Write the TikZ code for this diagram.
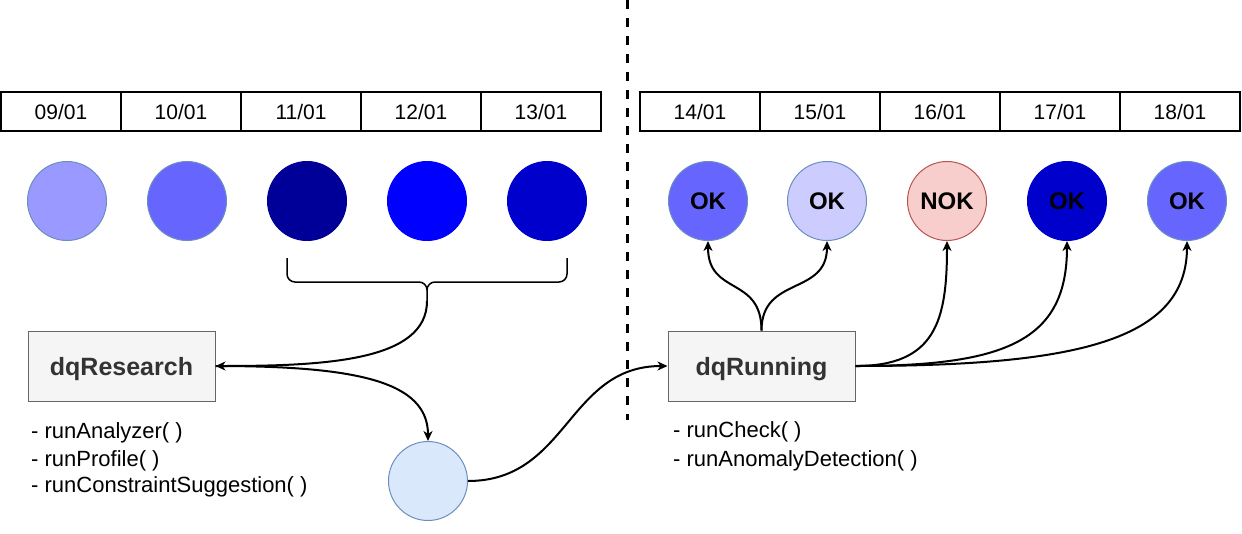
\documentclass[tikz,border=0pt]{standalone}
\usepackage{fontspec}
\setmainfont{Liberation Sans}
\usepackage{tikz}
\usetikzlibrary{arrows.meta}
\definecolor{lilac}{HTML}{9999FF}
\definecolor{mblue}{HTML}{6666FF}
\definecolor{navy}{HTML}{000099}
\definecolor{pblue}{HTML}{0000FF}
\definecolor{dblue}{HTML}{0000CC}
\definecolor{pale}{HTML}{CCCCFF}
\definecolor{rosy}{HTML}{F8CECC}
\definecolor{rosyline}{HTML}{B85450}
\definecolor{sky}{HTML}{DAE8FC}
\definecolor{skyline}{HTML}{6C8EBF}
\definecolor{boxfill}{HTML}{F5F5F5}
\definecolor{boxline}{HTML}{666666}
\definecolor{boxtext}{HTML}{333333}
\tikzset{dcell/.style={draw,line width=1.5pt,minimum width=120pt,minimum height=39pt,inner sep=0pt,font=\fontsize{21}{25}\selectfont}}
\tikzset{ball/.style={circle,minimum size=79pt,inner sep=0pt,line width=1pt,font=\bfseries\fontsize{24}{28}\selectfont}}
\tikzset{ebox/.style={draw=boxline,fill=boxfill,line width=1pt,minimum width=187pt,minimum height=70pt,text depth=0pt,text=boxtext,font=\bfseries\fontsize{25}{29}\selectfont}}
\tikzset{elist/.style={anchor=west,inner sep=0pt,font=\fontsize{22}{26}\selectfont}}
\tikzset{earrow/.style={->,>={Stealth[length=10pt,width=9pt,inset=3pt]},line width=2pt}}
\tikzset{ebrace/.style={line width=1.5pt}}

\begin{document}
\begin{tikzpicture}[x=1pt,y=-1pt]
    \useasboundingbox (0,0) rectangle (1242,533);
    \draw[line width=3pt,dash pattern=on 9pt off 9pt] (627.5,0) -- (627.5,420);
    % dates
    \node[dcell] (d09) at (61,111.5) {09/01};
    \node[dcell] (d10) at (181,111.5) {10/01};
    \node[dcell] (d11) at (301,111.5) {11/01};
    \node[dcell] (d12) at (421,111.5) {12/01};
    \node[dcell] (d13) at (541,111.5) {13/01};
    \node[dcell] (d14) at (700,111.5) {14/01};
    \node[dcell] (d15) at (820,111.5) {15/01};
    \node[dcell] (d16) at (940,111.5) {16/01};
    \node[dcell] (d17) at (1060,111.5) {17/01};
    \node[dcell] (d18) at (1180,111.5) {18/01};
    % runs
    \node[ball,fill=lilac,draw=skyline] (b09) at (67,201) {};
    \node[ball,fill=mblue,draw=skyline] (b10) at (187,201) {};
    \node[ball,fill=navy,draw=navy] (b11) at (307,201) {};
    \node[ball,fill=pblue,draw=pblue] (b12) at (427,201) {};
    \node[ball,fill=dblue,draw=dblue] (b13) at (547,201) {};
    \node[ball,fill=mblue,draw=skyline] (b14) at (708,201) {OK};
    \node[ball,fill=pale,draw=skyline] (b15) at (827,201) {OK};
    \node[ball,fill=rosy,draw=rosyline] (b16) at (947,201) {NOK};
    \node[ball,fill=dblue,draw=dblue] (b17) at (1067,201) {OK};
    \node[ball,fill=mblue,draw=skyline] (b18) at (1187,201) {OK};
    % brace
    \draw[ebrace] (287,258) -- (287,274) to[out=-90,in=180] (295,282) -- (419,282) to[out=0,in=90] (427,290) -- (427,301);
    \draw[ebrace] (567,258) -- (567,274) to[out=-90,in=0] (559,282) -- (435,282) to[out=180,in=90] (427,290);
    \coordinate (tip) at (427,301);
    \node[ebox] (research) at (121.5,366) {dqResearch};
    \node[ebox] (running) at (761.5,366) {dqRunning};
    \node[ball,fill=sky,draw=skyline] (seed) at (428,481) {};
    \node[elist] (ra) at (31,433) {- runAnalyzer( )};
    \node[elist] (rp) at (31,461) {- runProfile( )};
    \node[elist] (rc) at (31,487) {- runConstraintSuggestion( )};
    \node[elist] (rk) at (673,432) {- runCheck( )};
    \node[elist] (rd) at (673,461) {- runAnomalyDetection( )};
    \draw[earrow] (tip) .. controls +(0,60) and +(110,0) .. (research.east);
    \draw[earrow] (research.east) .. controls +(140,0) and +(0,-60) .. (seed.north);
    \draw[earrow] (seed.east) .. controls +(100,0) and +(-100,0) .. (running.west);
    \draw[earrow] (running.north) .. controls +(0,-55) and +(0,55) .. (b14.south);
    \draw[earrow] (running.north) .. controls +(0,-55) and +(0,55) .. (b15.south);
    \draw[earrow] (running.east) .. controls +(80,0) and +(0,80) .. (b16.south);
    \draw[earrow] (running.east) .. controls +(150,0) and +(0,100) .. (b17.south);
    \draw[earrow] (running.east) .. controls +(220,0) and +(0,100) .. (b18.south);
\end{tikzpicture}
\end{document}
